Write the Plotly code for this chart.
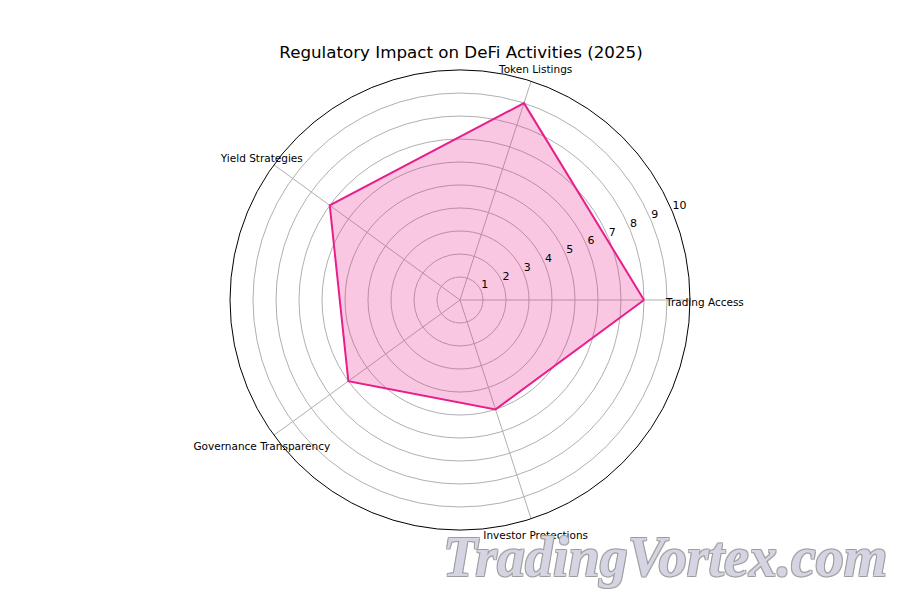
import plotly.graph_objects as go

categories = ["Trading Access", "Token Listings", "Yield Strategies",
              "Governance Transparency", "Investor Protections"]
values = [8, 9, 7, 6, 5]
radial_ticks = [1, 2, 3, 4, 5, 6, 7, 8, 9, 10]
watermark = "TradingVortex.com"

n = len(categories)
angles = [i * 360 / n for i in range(n)]
theta = angles + angles[:1]
r = values + values[:1]

R_MAX = 10
LABEL_R = 10.65      # category labels sit just outside the frame
RLABEL_ANGLE = 22.5  # radial tick labels angle

# page body margin offset (px) of the html page
OFF = 8
W, H = 900, 600


def px_x(x):
    return (x - OFF) / W


def px_y(y):
    return 1 - (y - OFF) / H


font_family = "DejaVu Sans, sans-serif"

fig = go.Figure()
fig.add_trace(go.Scatterpolar(
    r=r, theta=theta, mode="lines", fill="toself",
    line=dict(color="#E91E8C", width=2),
    fillcolor="rgba(233,30,140,0.25)",
    hoverinfo="skip", showlegend=False,
))
# radial tick labels
fig.add_trace(go.Scatterpolar(
    r=radial_ticks, theta=[RLABEL_ANGLE] * len(radial_ticks),
    mode="text", text=[str(t) for t in radial_ticks],
    textposition="top right",
    textfont=dict(size=11, family=font_family, color="black"),
    hoverinfo="skip", showlegend=False, cliponaxis=False,
))
# category labels on an overlay polar whose range reaches the label radius
fig.add_trace(go.Scatterpolar(
    r=[LABEL_R] * n, theta=angles, mode="text", text=categories,
    textposition="middle center",
    textfont=dict(size=10.5, family=font_family, color="black"),
    hoverinfo="skip", showlegend=False, cliponaxis=False,
    subplot="polar2",
))

cx, cy, rad = 460, 300, 230
rad2 = rad * LABEL_R / R_MAX
cy2 = cy + 3  # text baseline compensation

hidden_axis = dict(visible=False, showgrid=False, showline=False,
                   showticklabels=False, ticks="")

fig.update_layout(
    width=W, height=H,
    margin=dict(l=0, r=0, t=0, b=0),
    paper_bgcolor="white",
    font=dict(family=font_family, size=11, color="black"),
    title=dict(text="Regulatory Impact on DeFi Activities (2025)",
               x=px_x(461), xanchor="center", y=px_y(52), yanchor="middle",
               font=dict(size=16.7, family=font_family, color="black")),
    polar=dict(
        domain=dict(x=[px_x(cx - rad), px_x(cx + rad)],
                    y=[px_y(cy + rad), px_y(cy - rad)]),
        bgcolor="white",
        angularaxis=dict(
            rotation=0, direction="counterclockwise",
            tickmode="array", tickvals=angles, ticktext=categories,
            showticklabels=False,
            showline=True, linecolor="black", linewidth=1,
            gridcolor="#b0b0b0", gridwidth=1, ticks="",
        ),
        radialaxis=dict(
            range=[0, R_MAX], tickvals=radial_ticks,
            showticklabels=False, showline=False, ticks="",
            gridcolor="#b0b0b0", gridwidth=1,
        ),
    ),
    polar2=dict(
        domain=dict(x=[px_x(cx - rad2), px_x(cx + rad2)],
                    y=[px_y(cy2 + rad2), px_y(cy2 - rad2)]),
        bgcolor="rgba(0,0,0,0)",
        angularaxis=dict(rotation=0, direction="counterclockwise",
                         **hidden_axis),
        radialaxis=dict(range=[0, LABEL_R], **hidden_axis),
    ),
)

fig.add_annotation(
    text=watermark, xref="paper", yref="paper",
    x=px_x(665), y=px_y(557), xanchor="center", yanchor="middle",
    showarrow=False,
    font=dict(family="Liberation Serif, serif", size=56,
              color="rgba(222,222,238,0.85)",
              style="italic", weight="bold",
              shadow="1px 1px 0 #9a9a9a, -1px -1px 0 #9a9a9a, 1px -1px 0 #9a9a9a, -1px 1px 0 #9a9a9a"),
)

fig.write_html("out.html")
